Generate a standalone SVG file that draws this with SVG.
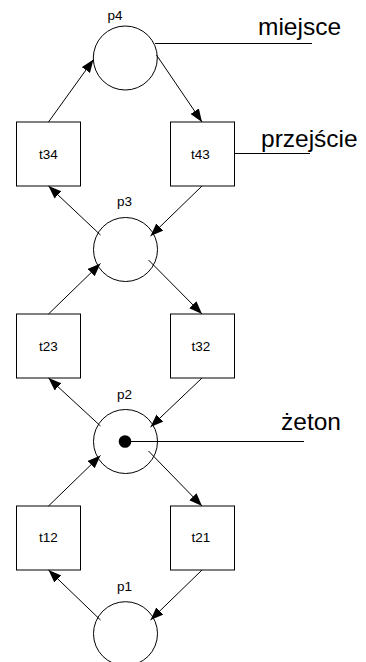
<svg xmlns="http://www.w3.org/2000/svg" width="366" height="662" viewBox="0 0 366 662">
<style>
.pl{fill:#fff;stroke:#000;stroke-width:1}
.tr{fill:#fff;stroke:#000;stroke-width:1}
.lb{font-family:"Liberation Sans",Arial,sans-serif;font-size:13.5px;fill:#000;text-anchor:middle}
.big{font-family:"Liberation Sans",Arial,sans-serif;font-size:24.5px;fill:#000}
.c{fill:none;stroke:#000;stroke-width:1;marker-end:url(#ah)}
.ln{fill:none;stroke:#000;stroke-width:1}
</style>
<defs>
<marker id="ah" markerUnits="userSpaceOnUse" markerWidth="14" markerHeight="11" refX="13" refY="5" orient="auto">
<path d="M0,0 L13,5 L0,10 z" fill="#000"/>
</marker>
</defs>
<rect width="366" height="662" fill="#fff"/>
<g id="p4"><circle class="pl" cx="125.3" cy="58" r="32"/><text class="lb" x="115" y="20">p4</text></g>
<g id="p3"><circle class="pl" cx="125.5" cy="249.5" r="32"/><text class="lb" x="124.5" y="206">p3</text></g>
<g id="p2"><circle class="pl" cx="125.5" cy="441.5" r="32"/><circle cx="125" cy="441.5" r="6.3" fill="#000"/><text class="lb" x="124.5" y="399">p2</text></g>
<g id="p1"><circle class="pl" cx="125.5" cy="633.7" r="32"/><text class="lb" x="124.5" y="591">p1</text></g>
<g id="t34"><rect class="tr" x="16.5" y="122" width="64" height="64"/><text class="lb" x="48.5" y="159">t34</text></g>
<g id="t43"><rect class="tr" x="170.5" y="122" width="64" height="64"/><text class="lb" x="200.5" y="159">t43</text></g>
<g id="t23"><rect class="tr" x="16.5" y="314" width="64" height="64"/><text class="lb" x="48.5" y="350.5">t23</text></g>
<g id="t32"><rect class="tr" x="170.5" y="314" width="64" height="64"/><text class="lb" x="201" y="350.5">t32</text></g>
<g id="t12"><rect class="tr" x="16.5" y="506" width="64" height="64"/><text class="lb" x="48.5" y="542">t12</text></g>
<g id="t21"><rect class="tr" x="170.5" y="506" width="64" height="64"/><text class="lb" x="201" y="542">t21</text></g>
<g id="connectors">
<path class="c" d="M48.5,122 L93.5,59.5"/>
<path class="c" d="M156.5,55 L202,122"/>
<path class="c" d="M202,186 L150.5,236"/>
<path class="c" d="M100.5,235 L48.5,186"/>
<path class="c" d="M48.5,314 L100.5,263.5"/>
<path class="c" d="M148.5,260 L202,314"/>
<path class="c" d="M202,378 L150.5,427"/>
<path class="c" d="M100.5,426 L48.5,378"/>
<path class="c" d="M48.5,506 L100.5,455.5"/>
<path class="c" d="M148.5,451 L202,506"/>
<path class="c" d="M202,570 L150.5,620"/>
<path class="c" d="M100.5,620 L48.5,570"/>
</g>
<g id="callouts">
<path class="ln" d="M155,43.5 L312,43.5"/>
<path class="ln" d="M234.5,153.5 L310,153.5"/>
<path class="ln" d="M125,441.5 L304,441.5"/>
<text class="big" x="258" y="35">miejsce</text>
<text class="big" x="261" y="146.5">przejście</text>
<text class="big" x="281" y="430">żeton</text>
</g>
</svg>
